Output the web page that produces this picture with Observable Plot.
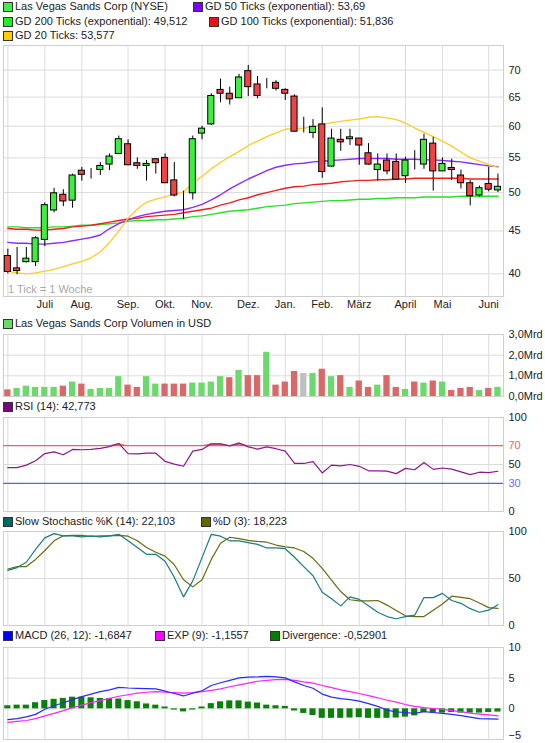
<!DOCTYPE html>
<html><head><meta charset="utf-8">
<script src="https://cdn.jsdelivr.net/npm/d3@7"></script>
<script src="https://cdn.jsdelivr.net/npm/@observablehq/plot@0.6"></script>
<style>
body{margin:0;background:#fff;}
#root{position:relative;width:545px;height:743px;font-family:"Liberation Sans",Arial,sans-serif;font-size:11px;color:#222;overflow:hidden;}
.lg{position:absolute;white-space:nowrap;line-height:13px;}
.sw{position:absolute;width:8px;height:8px;border:1px solid #333;box-sizing:content-box;}
.pl{position:absolute;left:0;}
</style></head><body><div id="root"></div><script>
// ---------- data (weekly ticks) ----------
const monthLabels = ["Juli","Aug.","Sep.","Okt.","Nov.","Dez.","Jan.","Feb.","März","April","Mai","Juni"];
const monthStartWeek = [4,8,13,17,21,26,30,34,38,43,47,52];
const gridWeeks = [0,4,8,13,17,21,26,30,34,38,43,47,52];
const priceTicks = [40,45,50,55,60,65,70];

const open  = [42.0,40.6,41.3,41.3,43.9,47.6,49.7,48.9,53.1,52.8,53.2,54.0,55.6,57.1,54.2,53.8,54.8,55.0,51.7,48.5,49.9,58.8,60.3,66.3,65.6,64.8,69.8,67.3,67.3,67.6,66.3,65.1,59.1,58.9,60.3,53.7,57.8,57.9,58.0,55.7,53.2,54.6,54.4,52.3,53.6,54.0,57.2,53.0,53.5,52.4,51.3,49.6,51.2,50.3];
const high  = [42.8,43.0,43.0,44.3,48.6,50.6,50.4,52.6,53.6,53.4,54.3,55.6,58.4,57.8,55.0,54.6,54.9,55.6,54.3,50.2,58.4,60.0,65.6,68.3,66.8,69.2,70.9,68.8,68.4,68.0,66.5,65.4,61.5,61.1,63.1,59.5,59.5,59.5,58.0,57.2,55.6,55.6,55.6,55.1,56.1,58.7,58.2,55.0,54.8,53.2,51.7,50.9,53.6,52.6];
const low   = [40.0,39.9,41.2,40.8,43.1,47.3,48.1,47.9,51.6,51.9,52.4,53.1,55.5,53.9,53.3,51.6,52.6,51.3,49.4,46.4,49.0,57.8,60.1,64.0,63.6,64.8,65.1,64.7,66.5,66.1,64.4,59.1,58.9,58.0,52.0,53.6,56.0,56.9,53.9,53.9,51.6,52.5,51.8,51.3,53.2,53.3,50.2,53.0,51.7,50.5,48.2,49.4,50.1,50.0];
const close = [40.2,40.3,41.7,44.1,48.3,49.9,48.8,52.4,52.5,52.8,53.8,55.2,57.9,53.9,53.8,54.1,54.2,51.3,49.6,48.5,57.9,59.6,65.2,65.6,64.6,68.6,66.8,65.2,67.3,66.5,65.6,59.1,59.1,59.9,52.9,58.0,57.4,58.2,56.9,54.0,54.0,53.0,51.8,54.6,53.6,57.8,53.0,54.1,53.2,51.3,49.5,50.6,50.4,50.8];

const gd200 = [45.5,45.5,45.4,45.4,45.4,45.5,45.5,45.6,45.7,45.7,45.8,45.9,46.0,46.2,46.3,46.3,46.4,46.4,46.5,46.6,46.8,46.9,47.1,47.3,47.5,47.6,47.7,47.9,48.1,48.2,48.3,48.5,48.6,48.7,48.8,48.9,48.9,49.0,49.1,49.1,49.2,49.2,49.3,49.3,49.3,49.4,49.4,49.4,49.4,49.5,49.5,49.5,49.5,49.5];
const gd100 = [45.3,45.2,45.2,45.1,45.1,45.2,45.3,45.5,45.6,45.7,45.9,46.1,46.3,46.5,46.6,46.8,46.9,47.0,47.1,47.3,47.5,47.7,47.9,48.3,48.6,49.0,49.3,49.7,50.0,50.3,50.6,50.8,50.9,51.1,51.2,51.3,51.5,51.6,51.7,51.7,51.8,51.8,51.9,51.9,52.0,52.0,52.0,52.0,52.0,52.0,51.9,51.9,51.9,51.9];
const gd50  = [43.6,43.5,43.5,43.4,43.4,43.5,43.6,43.8,44.0,44.2,44.5,45.3,45.9,46.4,46.8,47.1,47.3,47.5,47.6,47.7,48.0,48.4,49.0,49.7,50.5,51.2,51.9,52.5,53.1,53.6,53.9,54.1,54.2,54.4,54.5,54.6,54.7,54.8,54.9,54.9,54.9,54.9,54.8,54.8,54.8,54.7,54.7,54.6,54.5,54.4,54.2,54.0,53.8,53.7];
const gd20  = [40.3,40.1,40.0,40.1,40.3,40.5,40.8,41.1,41.4,41.8,42.5,43.6,45.0,46.6,47.8,48.7,49.1,49.4,49.8,50.1,51.3,52.3,53.4,54.3,55.2,56.0,56.9,57.6,58.3,58.9,59.5,59.6,59.7,59.9,60.3,60.6,60.8,61.0,61.2,61.5,61.6,61.4,61.1,60.5,59.7,59.0,58.3,57.6,56.8,55.9,55.0,54.5,54.0,53.6];

const volume = [0.32,0.39,0.50,0.44,0.44,0.44,0.50,0.70,0.60,0.34,0.39,0.39,0.96,0.55,0.44,0.96,0.60,0.60,0.60,0.60,0.65,0.65,0.70,0.96,0.91,1.26,1.01,1.01,2.14,0.55,0.70,1.21,1.11,1.11,1.32,0.96,1.01,0.44,0.75,0.44,0.55,1.01,0.44,0.34,0.70,0.65,0.75,0.70,0.29,0.39,0.44,0.29,0.39,0.44];
const volDir = ["d","u","u","u","u","u","d","u","d","u","u","u","u","d","d","u","u","d","d","d","u","u","u","u","d","u","d","d","u","d","d","d","n","u","d","u","d","u","d","d","u","d","d","u","d","u","d","u","d","d","d","u","d","u"];

const rsi = [46.6,46.6,49.3,54.0,61.6,63.4,60.4,66.0,65.7,66.0,67.2,69.0,72.4,61.6,61.2,62.0,62.0,53.4,50.4,48.1,64.2,66.0,72.0,72.0,69.8,72.8,68.7,66.4,68.7,66.8,64.2,51.1,51.1,53.0,41.0,49.3,48.5,50.0,48.1,43.3,43.3,42.9,40.3,45.9,44.4,52.2,44.8,46.3,45.1,42.2,39.2,41.8,41.4,42.8];

const stochK = [58.6,61.6,67.3,81.0,93.2,97.7,95.4,95.4,94.3,95.4,94.3,95.4,97.0,90.1,82.9,75.7,75.7,68.4,51.3,30.4,47.5,72.2,97.0,95.0,90.1,90.1,88.2,86.3,82.5,82.5,81.7,72.6,62.7,52.9,35.4,28.5,20.9,30.4,27.8,20.9,14.1,9.5,7.2,9.5,11.0,29.7,29.7,34.2,26.6,23.6,17.9,14.1,16.3,22.1];
const stochD = [60.1,62.7,62.7,70.3,79.8,90.1,95.4,95.8,95.8,94.7,95.4,95.4,95.8,95.0,90.1,82.9,77.9,73.8,64.6,48.7,41.1,48.7,70.3,87.5,93.9,92.4,90.5,89.4,88.6,85.6,83.7,82.5,78.7,71.5,60.8,48.3,36.1,27.4,26.2,26.2,26.6,21.7,16.0,10.3,9.5,9.5,16.3,22.8,31.2,30.0,28.5,24.0,19.0,18.2];

const macd = [-1.76,-1.6,-1.3,-0.9,-0.06,0.5,1.0,1.5,2.0,2.4,2.8,3.1,3.5,3.4,3.35,3.3,3.25,2.9,2.5,2.1,2.55,2.95,3.8,4.25,4.65,5.05,5.17,5.2,5.3,5.2,5.05,4.4,3.8,3.35,2.4,1.9,1.65,1.5,1.25,0.85,0.4,-0.2,-0.5,-0.6,-0.75,-0.45,-0.6,-0.75,-0.9,-1.1,-1.35,-1.6,-1.65,-1.68];
const macdExp = [-2.2,-2.05,-1.9,-1.6,-1.15,-0.75,-0.3,0.2,0.6,1.0,1.35,1.7,2.05,2.3,2.55,2.7,2.8,2.7,2.65,2.55,2.65,2.8,3.0,3.25,3.6,3.9,4.2,4.5,4.65,4.75,4.8,4.65,4.4,4.2,3.8,3.45,3.1,2.8,2.5,2.15,1.8,1.4,1.1,0.7,0.4,0.2,0.05,-0.1,-0.3,-0.45,-0.7,-0.85,-1.0,-1.16];
const divergence = [0.5,0.6,0.6,1.0,1.35,1.55,1.7,1.9,1.9,1.8,1.7,1.65,1.6,1.35,1.15,0.8,0.6,0.3,-0.2,-0.5,-0.2,0.3,0.85,1.15,1.3,1.3,1.1,0.95,0.6,0.5,0.4,-0.35,-0.75,-1.1,-1.55,-1.55,-1.55,-1.5,-1.45,-1.55,-1.55,-1.55,-1.5,-1.35,-1.15,-0.6,-0.7,-0.7,-0.6,-0.7,-0.7,-0.7,-0.6,-0.53];

// ---------- layout ----------
const root = document.getElementById("root");
const FONT = '"Liberation Sans", Arial, sans-serif';
const GRID = "#dcdcdc";
const xDomain = [-0.47, 53.6];
const base = {width: 545, marginLeft: 3, marginRight: 42, marginTop: 1, marginBottom: 1,
  style: {fontFamily: FONT, fontSize: "11px", overflow: "visible", background: "transparent", color: "#222"}};

const rows = open.map((o, i) => ({i, open: o, high: high[i], low: low[i], close: close[i],
  gd20: gd20[i], gd50: gd50[i], gd100: gd100[i], gd200: gd200[i],
  vol: volume[i], dir: volDir[i], rsi: rsi[i], k: stochK[i], d: stochD[i],
  macd: macd[i], exp: macdExp[i], div: divergence[i]}));

function place(svg, top) {
  svg.classList.add("pl"); svg.style.top = top + "px"; root.appendChild(svg);
}
function legend(x, yc, color, text) {
  const s = document.createElement("div"); s.className = "sw";
  s.style.left = x + "px"; s.style.top = (yc - 5) + "px"; s.style.background = color; root.appendChild(s);
  const t = document.createElement("div"); t.className = "lg";
  t.style.left = (x + 12) + "px"; t.style.top = (yc - 7) + "px"; t.textContent = text; root.appendChild(t);
}
const wk = d => d.i;
const monthRules = () => Plot.ruleX(gridWeeks, {stroke: GRID});
const rightAxis = (ticks, opts = {}) => Plot.axisY(ticks, {anchor: "right", label: null, tickSize: 0, tickPadding: 5, fill: "#222", fontSize: 11, ...opts});

// ---------- top legend ----------
legend(3, 7, "#44ee44", "Las Vegas Sands Corp (NYSE)");
legend(193, 7, "#8000ff", "GD 50 Ticks (exponential): 53,69");
legend(3, 21.5, "#22ee22", "GD 200 Ticks (exponential): 49,512");
legend(209, 21.5, "#ee1111", "GD 100 Ticks (exponential): 51,836");
legend(3, 36, "#ffcc00", "GD 20 Ticks: 53,577");

// ---------- price panel ----------
const mStart = new Map(monthStartWeek.map((w, j) => [w, monthLabels[j]]));
place(Plot.plot({...base, height: 265, marginTop: 0, marginBottom: 14,
  x: {domain: xDomain, axis: null},
  y: {type: "log", domain: [37.58, 74.9], axis: null},
  marks: [
    Plot.ruleY(priceTicks, {stroke: GRID}),
    monthRules(),
    Plot.frame({stroke: "#cfcfcf"}),
    Plot.line(rows, {x: wk, y: "gd200", stroke: "#2be02b", strokeWidth: 1.4}),
    Plot.line(rows, {x: wk, y: "gd100", stroke: "#f02020", strokeWidth: 1.4}),
    Plot.line(rows, {x: wk, y: "gd50", stroke: "#8b2cff", strokeWidth: 1.4}),
    Plot.line(rows, {x: wk, y: "gd20", stroke: "#ffcc22", strokeWidth: 1.3}),
    Plot.ruleX(rows, {x: wk, y1: "low", y2: "high", stroke: "#000", strokeWidth: 1}),
    Plot.rect(rows, {filter: d => d.close >= d.open, x1: d => d.i - 0.33, x2: d => d.i + 0.33, y1: "open", y2: "close", fill: "#3ef03e", stroke: "#000", strokeWidth: 1}),
    Plot.rect(rows, {filter: d => d.close < d.open, x1: d => d.i - 0.33, x2: d => d.i + 0.33, y1: "open", y2: "close", fill: "#f04444", stroke: "#000", strokeWidth: 1}),
    rightAxis(priceTicks),
    Plot.axisX(monthStartWeek, {anchor: "bottom", label: null, tickSize: 0, tickPadding: 4, fill: "#222", fontSize: 11, tickFormat: w => mStart.get(w)})
  ]
}), 45);
const tick = document.createElement("div"); tick.className = "lg";
tick.style.left = "8px"; tick.style.top = "283px"; tick.style.color = "#a8a8a8"; tick.textContent = "1 Tick = 1 Woche";
root.appendChild(tick);

// ---------- volume panel ----------
legend(3, 324, "#66dd66", "Las Vegas Sands Corp Volumen in USD");
const volColor = {u: "#6cd96c", d: "#da6868", n: "#c0c0c0"};
place(Plot.plot({...base, height: 64,
  x: {domain: xDomain, axis: null}, y: {domain: [0, 3], axis: null},
  marks: [
    Plot.ruleY([1, 2], {stroke: GRID}),
    monthRules(),
    Plot.frame({stroke: "#cfcfcf"}),
    ...Object.keys(volColor).map(k => Plot.rectY(rows, {filter: d => d.dir === k, x1: d => d.i - 0.34, x2: d => d.i + 0.34, y1: 0, y2: "vol", fill: volColor[k]})),
    rightAxis([0, 1, 2, 3], {tickFormat: v => v.toFixed(1).replace(".", ",") + "Mrd"})
  ]
}), 333);

// ---------- RSI panel ----------
legend(3, 407, "#800080", "RSI (14): 42,773");
place(Plot.plot({...base, height: 96,
  x: {domain: xDomain, axis: null}, y: {domain: [0, 100], axis: null},
  marks: [
    Plot.ruleY([50], {stroke: GRID}),
    monthRules(),
    Plot.frame({stroke: "#cfcfcf"}),
    Plot.areaY(rows, {x: wk, y1: 70, y2: d => Math.max(d.rsi, 70), fill: "#f06060", fillOpacity: 0.9}),
    Plot.ruleY([70], {stroke: "#f06060", strokeWidth: 1.2}),
    Plot.ruleY([30], {stroke: "#5c5cff", strokeWidth: 1.2}),
    Plot.line(rows, {x: wk, y: "rsi", stroke: "#8a1a8a", strokeWidth: 1.2}),
    rightAxis([0, 50, 100]),
    rightAxis([70], {fill: "#f06060"}),
    rightAxis([30], {fill: "#6a6aff"})
  ]
}), 416);

// ---------- Stochastic panel ----------
legend(3, 521.5, "#006666", "Slow Stochastic %K (14): 22,103");
legend(201, 521.5, "#666600", "%D (3): 18,223");
place(Plot.plot({...base, height: 96,
  x: {domain: xDomain, axis: null}, y: {domain: [0, 100], axis: null},
  marks: [
    Plot.ruleY([50], {stroke: GRID}),
    monthRules(),
    Plot.frame({stroke: "#cfcfcf"}),
    Plot.line(rows, {x: wk, y: "d", stroke: "#6b6b10", strokeWidth: 1.2}),
    Plot.line(rows, {x: wk, y: "k", stroke: "#1a7c7c", strokeWidth: 1.2}),
    rightAxis([0, 50, 100])
  ]
}), 530);

// ---------- MACD panel ----------
legend(3, 635.5, "#0000ff", "MACD (26, 12): -1,6847");
legend(155, 635.5, "#ff00ff", "EXP (9): -1,1557");
legend(270, 635.5, "#008000", "Divergence: -0,52901");
place(Plot.plot({...base, height: 94,
  x: {domain: xDomain, axis: null}, y: {domain: [-5, 10], axis: null},
  marks: [
    Plot.ruleY([0, 5], {stroke: GRID}),
    monthRules(),
    Plot.frame({stroke: "#cfcfcf"}),
    Plot.rectY(rows, {x1: d => d.i - 0.33, x2: d => d.i + 0.33, y1: 0, y2: "div", fill: "#0a800a"}),
    Plot.line(rows, {x: wk, y: "exp", stroke: "#ff22ff", strokeWidth: 1.2}),
    Plot.line(rows, {x: wk, y: "macd", stroke: "#2a2aff", strokeWidth: 1.2}),
    rightAxis([0, 5, 10]),
    rightAxis([-5], {dy: -4})
  ]
}), 646);
</script></body></html>
